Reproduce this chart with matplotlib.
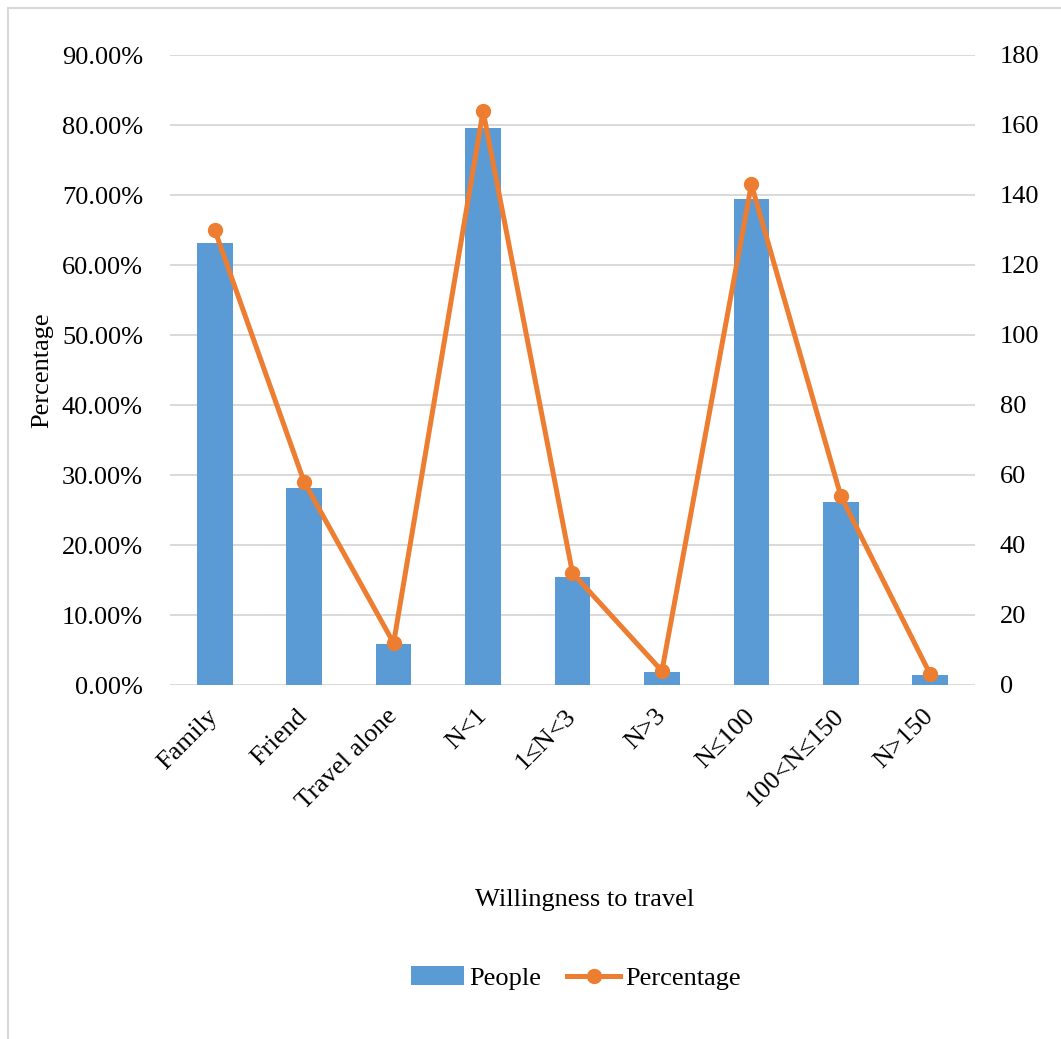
import matplotlib
matplotlib.use("Agg")
import matplotlib.pyplot as plt
import matplotlib.ticker as mticker
from matplotlib.lines import Line2D

# ── palette ────
BAR_BLUE   = "#5B9BD5"
LINE_ORNG  = "#ED7D31"
GRID       = "#D9D9D9"
TEXT       = "#000000"
FS         = 19

plt.rcParams["font.family"] = ["Liberation Serif", "DejaVu Serif"]

# ── data ────
categories = ["Family", "Friend", "Travel alone", "N<1", "1≤N<3", "N>3",
              "N≤100", "100<N≤150", "N>150"]
people_pct = [0.631, 0.282, 0.058, 0.796, 0.155, 0.019, 0.694, 0.262, 0.015]
people_cnt = [130, 58, 12, 164, 32, 4, 143, 54, 3]

left_ticks  = [i / 10 for i in range(10)]
right_ticks = list(range(0, 181, 20))

W, H = 1061, 1039
fig = plt.figure(figsize=(W / 100, H / 100), dpi=100)
fig.patch.set_facecolor("white")

ax = fig.add_axes([170 / W, 1 - 685 / H, 805 / W, 630 / H])
ax2 = ax.twinx()

x = list(range(len(categories)))
ax.bar(x, people_pct, width=0.4, color=BAR_BLUE, zorder=3, label="People")
ax2.plot(x, people_cnt, color=LINE_ORNG, linewidth=3.6, marker="o",
         markersize=10, zorder=4, label="Percentage")

ax.set_xlim(-0.5, len(categories) - 0.5)
ax.set_ylim(0, 0.9)
ax2.set_ylim(0, 180)
ax.set_yticks(left_ticks)
ax2.set_yticks(right_ticks)
ax.yaxis.set_major_formatter(mticker.FuncFormatter(lambda v, _: f"{v * 100:.2f}%"))

ax.grid(axis="y", color=GRID, linewidth=1.4)
ax.set_axisbelow(True)

for a in (ax, ax2):
    for spine in a.spines.values():
        spine.set_visible(False)
    a.tick_params(length=0, labelsize=FS, colors=TEXT)
ax.tick_params(axis="y", pad=19.5)
ax2.tick_params(axis="y", pad=18)

ax.set_xticks(x)
ax.set_xticklabels(categories, rotation=45, ha="right", va="center",
                   rotation_mode="anchor")
ax.tick_params(axis="x", pad=20)

fig.text(42 / W, 1 - 370 / H, "Percentage", rotation=90, fontsize=FS,
         ha="center", va="center")
fig.text(585 / W, 1 - 900 / H, "Willingness to travel", fontsize=FS,
         ha="center", va="center")

handles = [ax.patches[0], ax2.lines[0]]
fig.legend(handles, ["People", "Percentage"], loc="center",
           bbox_to_anchor=(576 / W, 1 - 978 / H), ncol=2, frameon=False,
           fontsize=FS, handlelength=2.0, handletextpad=0.2, columnspacing=1.0)

# chart-area border, left and top edges
fig.add_artist(Line2D([7.5 / W, 7.5 / W], [0, 1 - 7.5 / H],
                      color=GRID, linewidth=1.5, transform=fig.transFigure))
fig.add_artist(Line2D([7.5 / W, 1], [1 - 7.5 / H, 1 - 7.5 / H],
                      color=GRID, linewidth=1.5, transform=fig.transFigure))

fig.savefig("out.png", dpi=100)
